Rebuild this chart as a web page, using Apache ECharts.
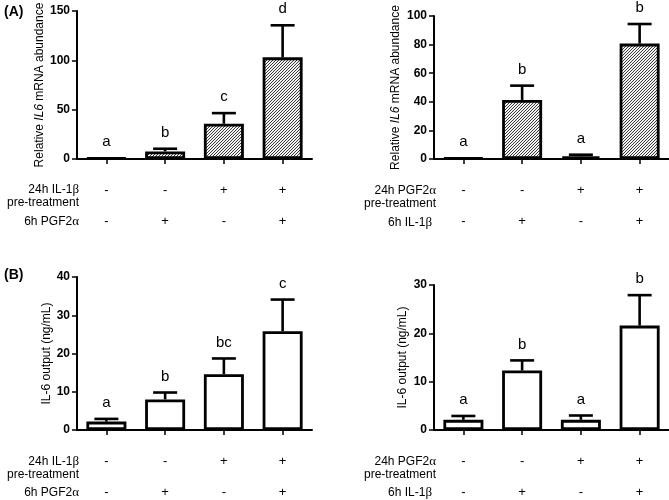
<!DOCTYPE html>
<html>
<head>
<meta charset="utf-8">
<script src="https://cdn.jsdelivr.net/npm/echarts@6/dist/echarts.min.js"></script>
<style>
html,body{margin:0;padding:0;background:#fff;}
#chart{width:669px;height:500px;}
</style>
</head>
<body>
<div id="chart"></div>
<script>
// ---------- DATA ----------
const categories = ['c1', 'c2', 'c3', 'c4'];

// Panel A left: 24h IL-1β pre-treatment, 6h PGF2α
const aLeftMean = [1, 7.7, 35.7, 103];
const aLeftErr  = [1.2, 10.4, 46.5, 135.5];
const aLeftLetters = ['a', 'b', 'c', 'd'];
const aLeftRow1 = ['-', '-', '+', '+'];
const aLeftRow2 = ['-', '+', '-', '+'];

// Panel A right: 24h PGF2α pre-treatment, 6h IL-1β
const aRightMean = [0.7, 41.3, 1.9, 80.7];
const aRightErr  = [0.9, 51.3, 3.0, 94.4];
const aRightLetters = ['a', 'b', 'a', 'b'];
const aRightRow1 = ['-', '-', '+', '+'];
const aRightRow2 = ['-', '+', '-', '+'];

// Panel B left
const bLeftMean = [2.2, 8.0, 14.6, 25.8];
const bLeftErr  = [2.9, 9.8, 18.7, 34.1];
const bLeftLetters = ['a', 'b', 'bc', 'c'];
const bLeftRow1 = ['-', '-', '+', '+'];
const bLeftRow2 = ['-', '+', '-', '+'];

// Panel B right
const bRightMean = [2.1, 12.3, 2.1, 21.6];
const bRightErr  = [2.9, 14.4, 3.0, 27.9];
const bRightLetters = ['a', 'b', 'a', 'b'];
const bRightRow1 = ['-', '-', '+', '+'];
const bRightRow2 = ['-', '+', '-', '+'];

// axis settings
const yMax = [150, 100, 40, 30];
const yInterval = [50, 20, 10, 10];

// ---------- CHART ----------
const FONT = '"Liberation Sans", Arial, sans-serif';

function hatch() {
  const s = 3;
  const c = document.createElement('canvas');
  c.width = s; c.height = s;
  const ctx = c.getContext('2d');
  ctx.fillStyle = '#f2f2f2';
  ctx.fillRect(0, 0, s, s);
  ctx.strokeStyle = '#3a3a3a';
  ctx.lineWidth = 1;
  ctx.beginPath();
  ctx.moveTo(-1, s + 1); ctx.lineTo(s + 1, -1);
  ctx.moveTo(-1, 1); ctx.lineTo(1, -1);
  ctx.moveTo(s - 1, s + 1); ctx.lineTo(s + 1, s - 1);
  ctx.stroke();
  return c;
}
const hatchPattern = { image: hatch(), repeat: 'repeat' };

const panels = [
  { mean: aLeftMean, err: aLeftErr, letters: aLeftLetters, r1: aLeftRow1, r2: aLeftRow2, hatched: true,
    grid: { left: 77, top: 11, width: 235, height: 148 },
    name: 'Relative {i|IL6} mRNA abundance', nameGap: 30 },
  { mean: aRightMean, err: aRightErr, letters: aRightLetters, r1: aRightRow1, r2: aRightRow2, hatched: true,
    grid: { left: 434, top: 16, width: 235, height: 143 },
    name: 'Relative {i|IL6} mRNA abundance', nameGap: 32 },
  { mean: bLeftMean, err: bLeftErr, letters: bLeftLetters, r1: bLeftRow1, r2: bLeftRow2, hatched: false,
    grid: { left: 77, top: 277, width: 235, height: 153 },
    name: 'IL-6 output (ng/mL)', nameGap: 24 },
  { mean: bRightMean, err: bRightErr, letters: bRightLetters, r1: bRightRow1, r2: bRightRow2, hatched: false,
    grid: { left: 434, top: 285, width: 235, height: 145 },
    name: 'IL-6 output (ng/mL)', nameGap: 25 }
];

const grids = [], xAxes = [], yAxes = [], series = [];
panels.forEach((p, k) => {
  grids.push(p.grid);
  xAxes.push({
    type: 'category', gridIndex: k, data: categories,
    axisLine: { show: true, lineStyle: { color: '#000', width: 2 } },
    axisTick: { show: true, alignWithLabel: true, length: 5, lineStyle: { color: '#000', width: 1.5 } },
    axisLabel: {
      margin: 16, interval: 0,
      formatter: (v, i) => '{m|' + p.r1[i] + '}\n{m|' + p.r2[i] + '}',
      rich: { m: { fontSize: 13, lineHeight: 31, color: '#000', fontFamily: FONT } }
    },
    splitLine: { show: false }
  });
  yAxes.push({
    type: 'value', gridIndex: k, min: 0, max: yMax[k], interval: yInterval[k],
    axisLine: { show: true, lineStyle: { color: '#000', width: 2 } },
    axisTick: { show: true, length: 5, lineStyle: { color: '#000', width: 1.5 } },
    axisLabel: { color: '#000', fontWeight: 'bold', fontSize: 12, fontFamily: FONT, margin: 7 },
    splitLine: { show: false },
    name: p.name, nameLocation: 'middle', nameGap: p.nameGap,
    nameTextStyle: { color: '#000', fontSize: 12, fontFamily: FONT,
      rich: { i: { fontStyle: 'italic', fontSize: 12, fontFamily: FONT, color: '#000' } } }
  });
  series.push({
    type: 'bar', xAxisIndex: k, yAxisIndex: k, data: p.mean, barWidth: 40,
    itemStyle: { color: p.hatched ? hatchPattern : '#fff', borderColor: '#000', borderWidth: 2.8 },
    silent: true, animation: false
  });
  series.push({
    type: 'custom', xAxisIndex: k, yAxisIndex: k, clip: false, animation: false, silent: true,
    data: p.mean.map((m, i) => [i, m, p.err[i]]),
    renderItem: (params, api) => {
      const i = api.value(0);
      const a = api.coord([i, api.value(1)]);
      const b = api.coord([i, api.value(2)]);
      const cap = 12;
      const children = [];
      if (b[1] < a[1] - 1) {
        children.push({ type: 'line', shape: { x1: a[0], y1: a[1], x2: b[0], y2: b[1] },
          style: { stroke: '#000', lineWidth: 2.6 } });
        children.push({ type: 'line', shape: { x1: b[0] - cap, y1: b[1], x2: b[0] + cap, y2: b[1] },
          style: { stroke: '#000', lineWidth: 2.6 } });
      }
      children.push({ type: 'text', x: b[0], y: b[1] - 16,
        style: { text: p.letters[params.dataIndex], fill: '#000', font: '15px ' + FONT,
          align: 'center', verticalAlign: 'middle' } });
      return { type: 'group', children };
    }
  });
});

function txt(x, y, text, align, font) {
  return { type: 'text', x, y, style: { text, fill: '#000', font, align: align, verticalAlign: 'middle', lineHeight: 13,
    rich: { g: { fontFamily: '"Liberation Serif", serif', fontSize: 13, fill: '#000' } } } };
}

const graphics = [
  txt(4, 12, '(A)', 'left', 'bold 14px ' + FONT),
  txt(4, 275, '(B)', 'left', 'bold 14px ' + FONT),
  // top-left table
  txt(79, 196.5, '24h IL-1{g|β}\npre-treatment', 'right', '12px ' + FONT),
  txt(79, 222, '6h PGF2{g|α}', 'right', '12px ' + FONT),
  // top-right table
  txt(436, 197, '24h PGF2{g|α}\npre-treatment', 'right', '12px ' + FONT),
  txt(432, 223, '6h IL-1{g|β}', 'right', '12px ' + FONT),
  // bottom-left table
  txt(79, 468, '24h IL-1{g|β}\npre-treatment', 'right', '12px ' + FONT),
  txt(79, 493, '6h PGF2{g|α}', 'right', '12px ' + FONT),
  // bottom-right table
  txt(436, 468, '24h PGF2{g|α}\npre-treatment', 'right', '12px ' + FONT),
  txt(432, 493, '6h IL-1{g|β}', 'right', '12px ' + FONT)
];

const chart = echarts.init(document.getElementById('chart'), null, { renderer: 'canvas' });
chart.setOption({
  animation: false,
  backgroundColor: '#fff',
  textStyle: { fontFamily: FONT },
  grid: grids, xAxis: xAxes, yAxis: yAxes, series,
  graphic: graphics
});
</script>
</body>
</html>
